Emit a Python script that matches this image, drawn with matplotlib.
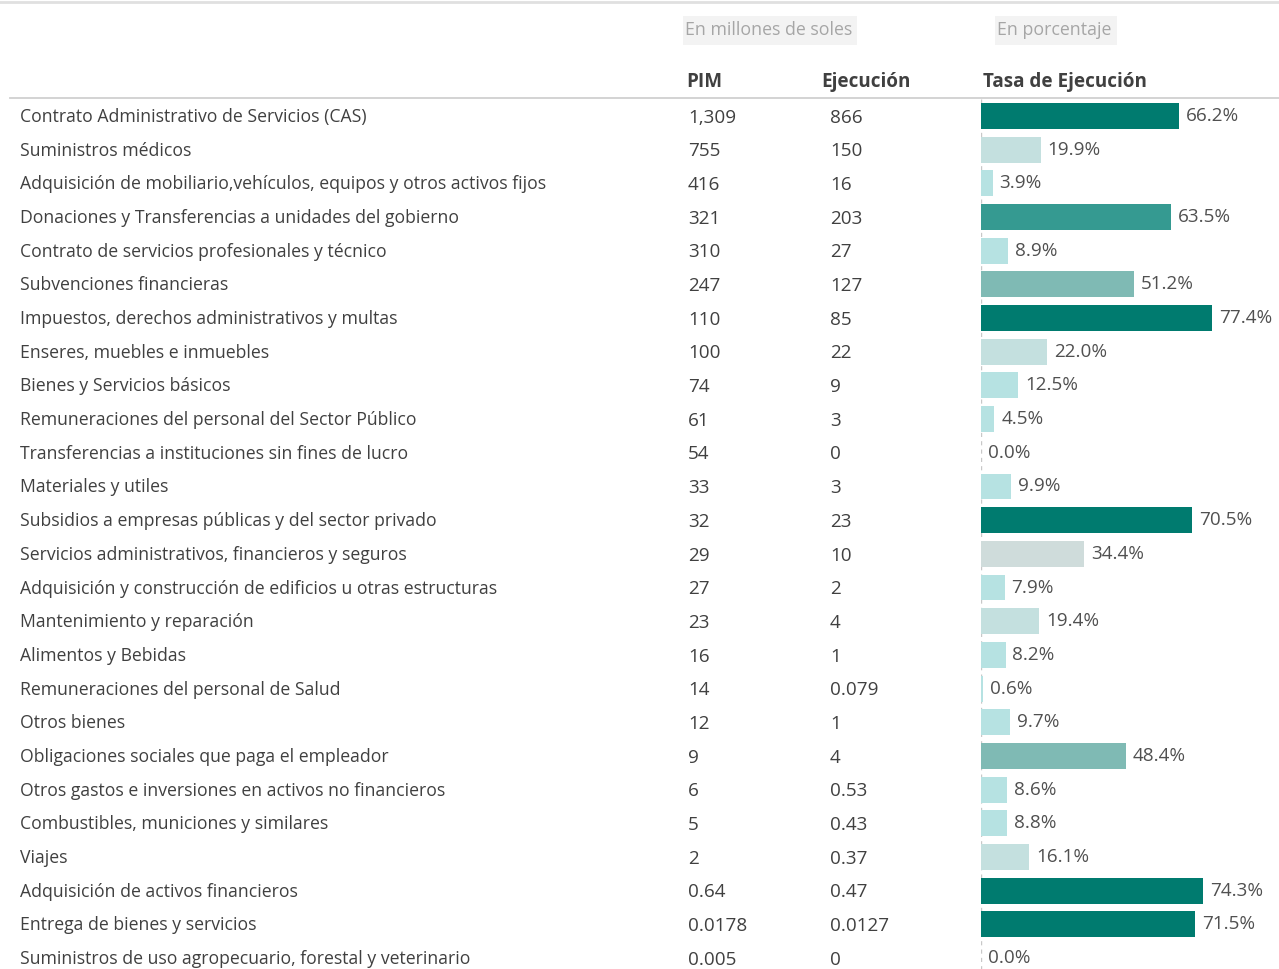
import matplotlib
matplotlib.use("Agg")
import matplotlib.pyplot as plt
import matplotlib.transforms as mtransforms
from matplotlib.lines import Line2D
from matplotlib.patches import Rectangle

categories = [
    "Contrato Administrativo de Servicios (CAS)",
    "Suministros médicos",
    "Adquisición de mobiliario,vehículos, equipos y otros activos fijos",
    "Donaciones y Transferencias a unidades del gobierno",
    "Contrato de servicios profesionales y técnico",
    "Subvenciones financieras",
    "Impuestos, derechos administrativos y multas",
    "Enseres, muebles e inmuebles",
    "Bienes y Servicios básicos",
    "Remuneraciones del personal del Sector Público",
    "Transferencias a instituciones sin fines de lucro",
    "Materiales y utiles",
    "Subsidios a empresas públicas y del sector privado",
    "Servicios administrativos, financieros y seguros",
    "Adquisición y construcción de edificios u otras estructuras",
    "Mantenimiento y reparación",
    "Alimentos y Bebidas",
    "Remuneraciones del personal de Salud",
    "Otros bienes",
    "Obligaciones sociales que paga el empleador",
    "Otros gastos e inversiones en activos no financieros",
    "Combustibles, municiones y similares",
    "Viajes",
    "Adquisición de activos financieros",
    "Entrega de bienes y servicios",
    "Suministros de uso agropecuario, forestal y veterinario",
]
pim = ["1,309", "755", "416", "321", "310", "247", "110", "100", "74", "61", "54",
       "33", "32", "29", "27", "23", "16", "14", "12", "9", "6", "5", "2", "0.64",
       "0.0178", "0.005"]
ejecucion = ["866", "150", "16", "203", "27", "127", "85", "22", "9", "3", "0", "3",
             "23", "10", "2", "4", "1", "0.079", "1", "4", "0.53", "0.43", "0.37",
             "0.47", "0.0127", "0"]
tasa = [66.2, 19.9, 3.9, 63.5, 8.9, 51.2, 77.4, 22.0, 12.5, 4.5, 0.0, 9.9, 70.5,
        34.4, 7.9, 19.4, 8.2, 0.6, 9.7, 48.4, 8.6, 8.8, 16.1, 74.3, 71.5, 0.0]

headers = ["PIM", "Ejecución", "Tasa de Ejecución"]
subtitle_left = "En millones de soles"
subtitle_right = "En porcentaje"


def bar_color(v):
    if v >= 65:
        return "#007B6F"
    if v >= 55:
        return "#359A91"
    if v >= 40:
        return "#7FBAB4"
    if v >= 30:
        return "#CFDCDB"
    if v >= 15:
        return "#C4E0DF"
    return "#B6E2E2"


plt.rcParams["font.family"] = ["Open Sans", "DejaVu Sans"]
W, H = 1279, 969
fig = plt.figure(figsize=(W / 100, H / 100), dpi=100)

row0, step = 116, 33.68
ax_left = 981
ax = fig.add_axes([ax_left / W, 0, (W - ax_left) / W, 1])
ax.set_xlim(0, (W - ax_left) / 2.99)
ax.set_ylim((H - row0) / step, -row0 / step)
ax.axis("off")

ypos = list(range(len(categories)))
ax.barh(ypos, tasa, height=0.77, color=[bar_color(v) for v in tasa], zorder=2)

# dashed baseline
ax.plot([0, 0], [-0.5, (H - row0) / step], ls=(0, (3, 3)), color="#C8C8C8", lw=1, zorder=1)

txtc = "#404040"
fs_lab = 12.7
fs_num = 13.6
for i, v in enumerate(tasa):
    ax.annotate(f"{v:.1f}%", (v, i), xytext=(5, 0), textcoords="offset points",
                va="center", ha="left", fontsize=fs_num, color="#505050")

blend = mtransforms.blended_transform_factory(fig.transFigure, ax.transData)
for i, (c, p, e) in enumerate(zip(categories, pim, ejecucion)):
    ax.text(20 / W, i + 0.03, c, transform=blend, va="center", ha="left", fontsize=fs_lab, color=txtc)
    ax.text(688 / W, i + 0.05, p, transform=blend, va="center", ha="left", fontsize=fs_num, color=txtc)
    ax.text(830 / W, i + 0.05, e, transform=blend, va="center", ha="left", fontsize=fs_num, color=txtc)

# headers
hy = 1 - 82 / H
for x, h in zip([686, 821, 983], headers):
    fig.text(x / W, hy, h, va="center", ha="left", fontsize=13.6, fontweight="bold", color="#404040")

# subtitle boxes
for x0, x1, t in [(683, 857, subtitle_left), (995, 1117, subtitle_right)]:
    fig.patches.append(Rectangle((x0 / W, 1 - 45 / H), (x1 - x0) / W, 29 / H,
                                 transform=fig.transFigure, facecolor="#F3F3F3",
                                 edgecolor="none", zorder=0))
    fig.text((x0 + 2) / W, 1 - 30 / H, t, va="center", ha="left", fontsize=12.8,
             color="#A6A6A6")

# separator lines
fig.lines.append(Line2D([10 / W, 1], [1 - 98 / H] * 2, transform=fig.transFigure,
                        color="#D0D0D0", lw=1.3))
fig.lines.append(Line2D([0, 1], [1 - 2 / H] * 2, transform=fig.transFigure,
                        color="#E0E0E0", lw=2))

fig.savefig("out.png", dpi=100, facecolor="white")
